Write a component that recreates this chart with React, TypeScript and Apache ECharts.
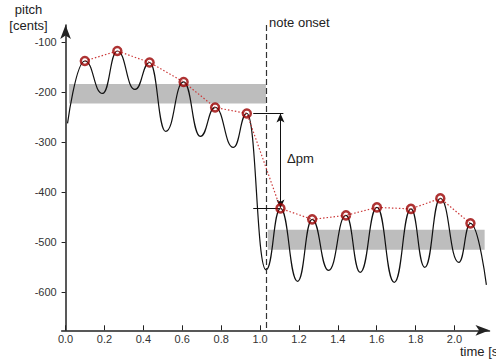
import React, { useEffect, useRef } from 'react';
import * as echarts from 'echarts';

// pitch curve extrema (time [s], pitch [cents])
const curveX = [0.01, 0.099, 0.19, 0.266, 0.357, 0.432, 0.515, 0.607, 0.693, 0.769, 0.863, 0.932, 1.031, 1.105, 1.193, 1.268, 1.352, 1.442, 1.515, 1.601, 1.69, 1.776, 1.847, 1.927, 2.022, 2.082, 2.164];
const curveY = [-262, -137, -202, -117, -194, -140, -278, -179, -288, -230, -310, -242, -555, -432, -578, -454, -556, -446, -560, -430, -580, -433, -550, -412, -540, -462, -585];
// vibrato peaks
const peakX = [0.099, 0.266, 0.432, 0.607, 0.769, 0.932, 1.105, 1.268, 1.442, 1.601, 1.776, 1.927, 2.082];
const peakY = [-137, -117, -140, -179, -230, -242, -432, -454, -446, -430, -433, -412, -462];
// tick labels
const yTicks = [-600, -500, -400, -300, -200, -100];
const xTicks = [0, 0.2, 0.4, 0.6, 0.8, 1.0, 1.2, 1.4, 1.6, 1.8, 2.0];
// grey bands (x0, x1, yTop, yBottom)
const bandX0 = [0.018, 1.04];
const bandX1 = [1.03, 2.155];
const bandYTop = [-183, -475];
const bandYBottom = [-222, -515];
// note onset and delta-pm annotation
const onsetX = 1.03;
const deltaX = 1.105;
const deltaTop = -242;
const deltaBottom = -432;
const deltaLeft = 0.965;
const deltaRightTop = 1.12;

const FONT = "'Liberation Sans', Arial, sans-serif";

export default function App() {
  const ref = useRef<HTMLDivElement>(null);
  useEffect(() => {
    if (!ref.current) return;
    const chart = echarts.init(ref.current, undefined, { renderer: 'svg' });
    const xMin = -0.02, xMax = 2.18, yMin = -676, yMax = -65;
    const axisColor = '#222';
    chart.setOption({
      animation: false,
      backgroundColor: '#fff',
      grid: { left: 61.7, right: 6.5, top: 25, bottom: 33.7, containLabel: false, outerBoundsMode: 'none' },
      xAxis: {
        type: 'value', min: xMin, max: xMax,
        splitLine: { show: false },
        axisLine: { show: true, lineStyle: { color: axisColor, width: 1.5 }, symbol: ['none', 'arrow'], symbolSize: [8, 14] },
        axisTick: { show: true, inside: true, length: 5, lineStyle: { color: axisColor, width: 1 }, customValues: xTicks },
        axisLabel: { show: true, margin: 3, color: '#333', fontSize: 11, fontFamily: FONT, customValues: xTicks, formatter: (v: number) => v.toFixed(1) },
      },
      yAxis: {
        type: 'value', min: yMin, max: yMax,
        splitLine: { show: false },
        axisLine: { show: true, lineStyle: { color: axisColor, width: 1.5 }, symbol: ['none', 'arrow'], symbolSize: [8, 14] },
        axisTick: { show: true, inside: false, length: 4, lineStyle: { color: axisColor, width: 1 }, customValues: yTicks },
        axisLabel: { show: true, margin: 5, color: '#333', fontSize: 11, fontFamily: FONT, customValues: yTicks, formatter: (v: number) => String(v) },
      },
      series: [
        {
          type: 'line', data: [], z: 1, silent: true,
          markArea: {
            silent: true,
            itemStyle: { color: '#bdbdbd', opacity: 1 },
            data: bandX0.map((x0, i) => [
              { xAxis: x0, yAxis: bandYTop[i] },
              { xAxis: bandX1[i], yAxis: bandYBottom[i] },
            ]),
          },
        },
        {
          type: 'line', z: 3, silent: true,
          data: curveX.map((x, i) => [x, curveY[i]]),
          showSymbol: false, symbol: 'none',
          smooth: 0.5, smoothMonotone: 'x',
          lineStyle: { color: '#111', width: 1.2 },
        },
        {
          type: 'line', z: 4, silent: true,
          data: [],
          markLine: {
            silent: true, symbol: 'none', label: { show: false },
            lineStyle: { color: '#333', width: 1.2, type: [6, 3] },
            data: [[{ coord: [onsetX, yMax] }, { coord: [onsetX, yMin] }]],
          },
        },
        {
          type: 'line', z: 5, silent: true,
          data: peakX.map((x, i) => [x, peakY[i]]),
          showSymbol: false, symbol: 'none',
          lineStyle: { color: '#cc3a3a', width: 1.2, type: [1.5, 2] },
        },
        {
          type: 'scatter', z: 6, silent: true,
          data: peakX.map((x, i) => [x, peakY[i]]),
          symbol: 'circle', symbolSize: 8,
          itemStyle: { color: 'rgba(255,255,255,0)', borderColor: '#9a0000', borderWidth: 2.5 },
        },
        {
          type: 'line', z: 7, silent: true,
          data: [],
          markLine: {
            silent: true, label: { show: false }, symbol: 'none',
            lineStyle: { color: '#111', width: 1, type: 'solid' },
            data: [
              [{ coord: [deltaLeft, deltaTop] }, { coord: [deltaRightTop, deltaTop] }],
              [{ coord: [deltaLeft, deltaBottom] }, { coord: [deltaX, deltaBottom] }],
            ],
          },
        },
        {
          type: 'line', z: 7, silent: true,
          data: [],
          markLine: {
            silent: true, label: { show: false }, symbol: ['arrow', 'arrow'], symbolSize: [6, 9],
            lineStyle: { color: '#111', width: 1, type: 'solid' },
            data: [[{ coord: [deltaX, deltaTop] }, { coord: [deltaX, deltaBottom] }]],
          },
        },
      ],
      graphic: [
        { type: 'text', x: 28.5, y: 9.5, style: { text: 'pitch', font: `13px ${FONT}`, fill: '#222', align: 'center', verticalAlign: 'middle' } },
        { type: 'text', x: 28.5, y: 25.5, style: { text: '[cents]', font: `13px ${FONT}`, fill: '#222', align: 'center', verticalAlign: 'middle' } },
        { type: 'text', x: 269, y: 22, style: { text: 'note onset', font: `13px ${FONT}`, fill: '#222', align: 'left', verticalAlign: 'middle' } },
        { type: 'text', x: 287, y: 158, style: { text: 'Δpm', font: `13px ${FONT}`, fill: '#222', align: 'left', verticalAlign: 'middle' } },
        { type: 'text', x: 460, y: 351.5, style: { text: 'time [s]', font: `13px ${FONT}`, fill: '#222', align: 'left', verticalAlign: 'middle' } },
      ],
    });
    return () => chart.dispose();
  }, []);
  return <div ref={ref} style={{ width: 496, height: 364, position: 'absolute', left: 0, top: 0 }} />;
}
